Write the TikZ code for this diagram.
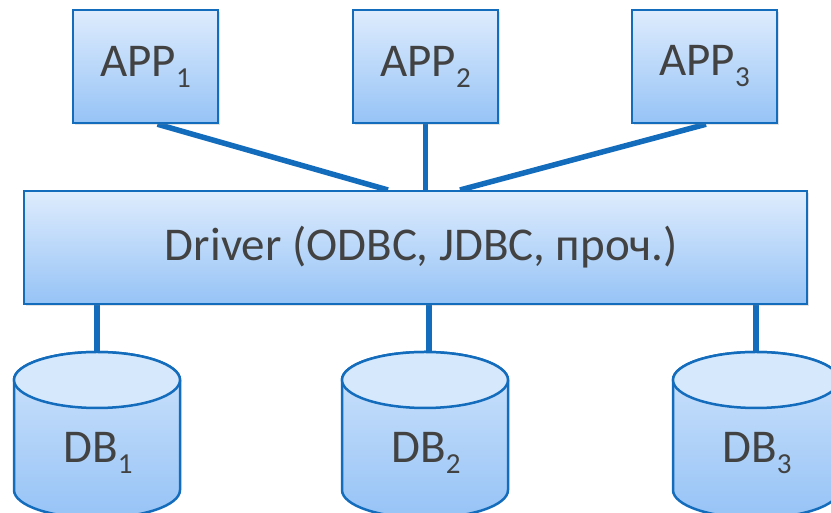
\documentclass[tikz,border=0pt]{standalone}
\usepackage{fontspec}
\setmainfont{Carlito}
\usetikzlibrary{shadows,backgrounds}
\definecolor{bordblue}{RGB}{20,108,188}
\definecolor{filltop}{RGB}{222,236,253}
\definecolor{fillbot}{RGB}{150,195,246}
\definecolor{cyltop}{RGB}{214,232,252}
\definecolor{txtgray}{RGB}{66,66,66}
\newcommand{\mysub}[1]{\raisebox{-11pt}{\fontsize{29}{29}\selectfont #1}}
\tikzset{
  boxstyle/.style={draw=bordblue, line width=2.5pt, top color=filltop, bottom color=fillbot,
    text=txtgray, font=\fontsize{47}{56}\selectfont,
    drop shadow={shadow xshift=2pt, shadow yshift=-2.5pt, opacity=0.22}},
  link/.style={draw=bordblue, line width=5.5pt},
  cylbody/.style={draw=bordblue, line width=2.5pt, top color=filltop!80!fillbot, bottom color=fillbot},
  cyltopst/.style={draw=bordblue, line width=2.5pt, fill=cyltop},
  dblabel/.style={text=txtgray, font=\fontsize{47}{56}\selectfont}
}
\begin{document}
\begin{tikzpicture}[x=1pt,y=1pt]
\useasboundingbox (0,0) rectangle (831,513);
\begin{scope}
\clip (0,0) rectangle (831,513);
% APP boxes
\node[boxstyle, minimum width=145pt, minimum height=113pt] (app1) at (145.5,446.5) {APP\mysub{1}};
\node[boxstyle, minimum width=145pt, minimum height=113pt] (app2) at (425.5,446.5) {APP\mysub{2}};
\node[boxstyle, minimum width=145pt, minimum height=113pt] (app3) at (704.5,446.5) {APP\mysub{3}};
% Driver
\node[boxstyle, minimum width=783pt, minimum height=113pt] (driver) at (415.5,265.5) {\hspace*{12pt}Driver (ODBC, JDBC, проч.)};
% cylinders
\foreach \cx/\nm/\k in {97/db1/1, 425/db2/2, 756/db3/3}{
  \path[cylbody] (\cx-83,133) -- (\cx-83,23) arc[start angle=180, end angle=360, x radius=83, y radius=28]
     -- (\cx+83,133) arc[start angle=0, end angle=180, x radius=83, y radius=28] -- cycle;
  \path[cyltopst] (\cx,133) ellipse[x radius=83, y radius=28];
  \coordinate (\nm top) at (\cx,161);
  \node[dblabel] (\nm) at (\cx+1,60) {DB\mysub{\k}};
}
\begin{scope}[on background layer]
\draw[link] ([xshift=12pt]app1.south) -- (388,323);
\draw[link] (app2.south) -- (app2.south |- driver.north);
\draw[link] ([xshift=1.5pt]app3.south) -- (460,323);
\draw[link] (driver.south -| db1top) -- (db1top);
\draw[link] (driver.south -| db2top) ++(4,0) -- ([xshift=4pt]db2top);
\draw[link] (driver.south -| db3top) -- (db3top);
\end{scope}
\end{scope}
\end{tikzpicture}
\end{document}
